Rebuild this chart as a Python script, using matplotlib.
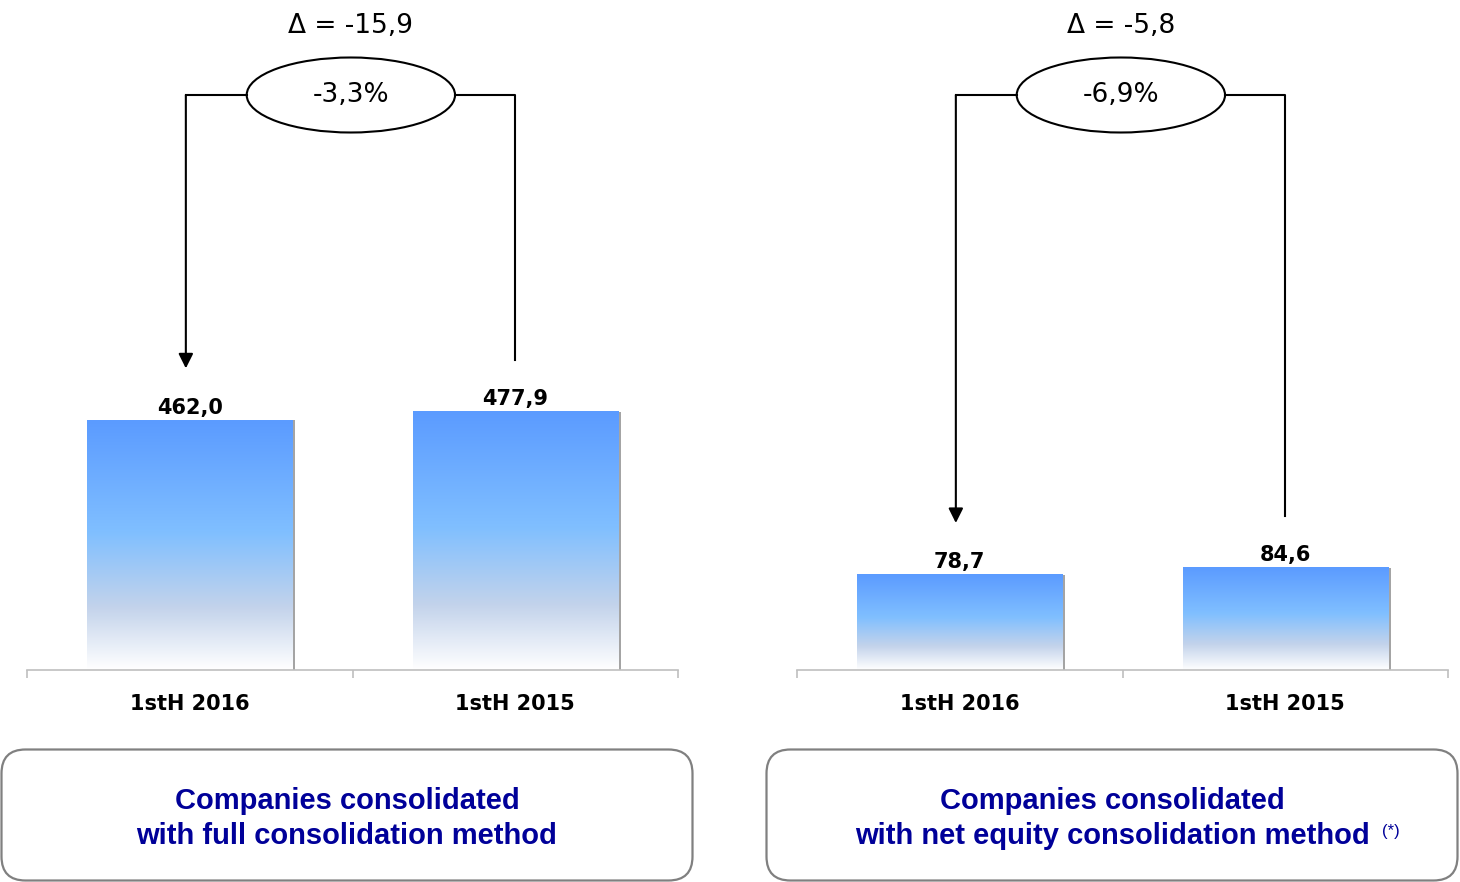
import numpy as np
import matplotlib
matplotlib.use('Agg')
import matplotlib.pyplot as plt
from matplotlib.colors import LinearSegmentedColormap
from matplotlib.patches import Ellipse, Rectangle, FancyBboxPatch

# data
categories = ['1stH 2016', '1stH 2015']
full_values = [462.0, 477.9]
equity_values = [78.7, 84.6]
delta_labels = ['\u0394 = -15,9', '\u0394 = -5,8']
pct_labels = ['-3,3%', '-6,9%']
box_titles = ['Companies consolidated\nwith full consolidation method',
              'Companies consolidated\nwith net equity consolidation method']
box_notes = ['', '(*)']

W, H = 1460, 882
fig = plt.figure(figsize=(W/100, H/100), dpi=100)

cmap = LinearSegmentedColormap.from_list(
    'bar', [(0.0, '#FFFFFF'), (0.25, '#C3D3EB'), (0.55, '#80BFFF'), (1.0, '#5B9BFF')])
grad = np.linspace(0, 1, 256).reshape(-1, 1)

def panel(left_px, values, ymax, delta, pct):
    ax = fig.add_axes([left_px/W, (H-670)/H, 651/W, 670/H])
    x = np.arange(len(values))
    bw = 0.63
    px = 1/325.5  # one pixel in x data units
    for xi, v in zip(x, values):
        ax.add_patch(Rectangle((xi + bw/2, 0), 3*px, v, color='#A4A4A4', lw=0, zorder=1))
        ax.imshow(grad, extent=[xi - bw/2, xi + bw/2, 0, v], origin='lower',
                  aspect='auto', cmap=cmap, zorder=2, interpolation='bicubic')
        ax.annotate('{:.1f}'.format(v).replace('.', ','), (xi, v), xytext=(0, 2),
                    textcoords='offset points', ha='center', va='bottom',
                    fontsize=15, fontweight='bold')
    ax.set_xlim(-0.5, 1.5)
    ax.set_ylim(0, ymax)
    ax.set_xticks(x)
    ax.set_xticklabels(categories, fontsize=15, fontweight='bold')
    ax.set_xticks([-0.5, 0.5, 1.5], minor=True)
    ax.tick_params(axis='x', which='major', length=0, pad=17)
    ax.tick_params(axis='x', which='minor', length=6, width=1.2, color='#BFBFBF')
    ax.set_yticks([])
    for s in ['left', 'right', 'top']:
        ax.spines[s].set_visible(False)
    ax.spines['bottom'].set_color('#BFBFBF')
    ax.spines['bottom'].set_linewidth(1.2)
    ax.patch.set_alpha(0)

    # change annotation
    tr = ax.get_xaxis_transform()
    ye = 1 - 95/670
    cx, ew, eh = 0.495, 0.64, 75/670
    gap = 52/670
    ax.add_patch(Ellipse((cx, ye), ew, eh, transform=tr, fill=False, ec='black', lw=1.5))
    ax.text(cx, ye, pct, transform=tr, ha='center', va='center', fontsize=19)
    ax.text(cx, 1 - 26/670, delta, transform=tr, ha='center', va='center', fontsize=19)
    xa = x[0] - 0.012
    ax.plot([cx - ew/2, xa], [ye, ye], transform=tr, color='black', lw=1.5)
    ax.annotate('', xy=(xa, values[0]/ymax + gap), xytext=(xa, ye),
                xycoords=tr, textcoords=tr,
                arrowprops=dict(arrowstyle='-|>', color='black', lw=1.5,
                                mutation_scale=22, shrinkA=0, shrinkB=0))
    ax.plot([cx + ew/2, x[1], x[1]], [ye, ye, values[1]/ymax + gap],
            transform=tr, color='black', lw=1.5)
    return ax

panel(27, full_values, 1240, delta_labels[0], pct_labels[0])
panel(797, equity_values, 555, delta_labels[1], pct_labels[1])

# captions in rounded boxes
for bx, title, note in zip([0, 765], box_titles, box_notes):
    bwid, bhei = 694, 134
    bax = fig.add_axes([bx/W, 0, bwid/W, bhei/H])
    bax.set_xlim(0, bwid)
    bax.set_ylim(0, bhei)
    bax.axis('off')
    bax.add_patch(FancyBboxPatch((1.5, 1.5), bwid - 3, bhei - 3,
                                 boxstyle='round,pad=0,rounding_size=24',
                                 fc='white', ec='#808080', lw=1.6))
    l1, l2 = title.split('\n')
    bax.text(bwid/2, bhei - 53, l1, ha='center', va='center', fontsize=21,
             fontweight='bold', color='#000099', family='Liberation Sans')
    t2 = bax.text(bwid/2, bhei - 88, l2, ha='center', va='center', fontsize=21,
                  fontweight='bold', color='#000099', family='Liberation Sans')
    if note:
        bax.annotate(note, xy=(1, 0.5), xycoords=t2, xytext=(9, 3),
                     textcoords='offset points', ha='left', va='center',
                     fontsize=12, color='#000099', family='Liberation Sans')

fig.savefig('out.png', dpi=100)
